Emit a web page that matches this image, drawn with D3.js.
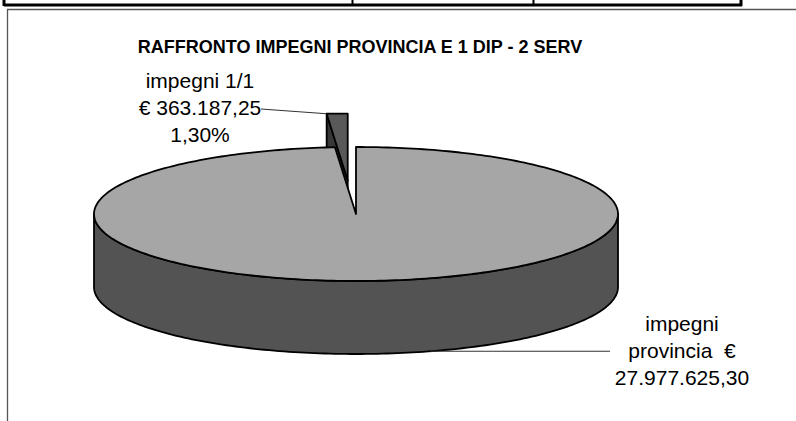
<!DOCTYPE html>
<html>
<head>
<meta charset="utf-8">
<script src="https://cdn.jsdelivr.net/npm/d3@7"></script>
<style>
  body { margin: 0; background: #fff; }
  svg { display: block; font-family: "Liberation Sans", Arial, sans-serif; }
  text { white-space: pre; }
</style>
</head>
<body>
<svg id="chart" width="796" height="421"></svg>
<script>
// data
var categories = ["impegni provincia", "impegni 1/1"];
var values = [27977625.30, 363187.25];
var labelLines = [
    ["impegni", "provincia  \u20ac", "27.977.625,30"],
    ["impegni 1/1", "\u20ac 363.187,25", "1,30%"]
];
var explode = [0, 0.5];
var title = "RAFFRONTO IMPEGNI PROVINCIA E 1 DIP - 2 SERV";

var svg = d3.select("#chart");

// header table remains (top of the page)
var tableCols = [4, 352.5, 533.5, 741];
svg.append("line")
    .attr("x1", 4).attr("x2", 742).attr("y1", 5).attr("y2", 5)
    .attr("stroke", "#000").attr("stroke-width", 3);
tableCols.forEach(function(x, i) {
    svg.append("line")
        .attr("x1", x).attr("x2", x).attr("y1", 0).attr("y2", 6)
        .attr("stroke", "#000").attr("stroke-width", (i == 0 || i == tableCols.length - 1) ? 3 : 2);
});

// chart frame
svg.append("path")
    .attr("d", "M7.5,421 L7.5,9.5 L796,9.5")
    .attr("fill", "none").attr("stroke", "#555").attr("stroke-width", 1.3);

// title
svg.append("text")
    .attr("x", 360).attr("y", 53)
    .attr("text-anchor", "middle")
    .style("font-weight", "bold").style("font-size", "18px")
    .text(title);

// 3d pie geometry
var cx = 356, cy = 214, rx = 262, ry = 67, depth = 73;

var pie = d3.pie().sort(null).startAngle(0).endAngle(2 * Math.PI);
var arcs = pie(values);

function pt(a, off, dz) {
    return [cx + off[0] + rx * Math.sin(a), cy + off[1] - ry * Math.cos(a) + (dz || 0)];
}
function arcPts(a0, a1, off, dz) {
    var n = Math.max(2, Math.ceil(Math.abs(a1 - a0) / 0.02));
    return d3.range(n + 1).map(function(i) { return pt(a0 + (a1 - a0) * i / n, off, dz); });
}
var line = d3.line();

function offsetOf(d, i) {
    var mid = (d.startAngle + d.endAngle) / 2;
    return [explode[i] * rx * Math.sin(mid) - explode[i] * 6, -explode[i] * ry * Math.cos(mid)];
}

var topColor = ["#a6a6a6", "#595959"];
var sideColor = ["#535353", "#383838"];

var g = svg.append("g");

// small (exploded) slice first: it sits behind the big one
var small = arcs[1], so = offsetOf(small, 1);
var apex = [cx + so[0], cy + so[1]];
var pa = pt(small.startAngle, so);
g.append("path")
    .attr("d", line([pa, apex, [apex[0], apex[1] + depth], [pa[0], pa[1] + depth]]) + "Z")
    .attr("fill", sideColor[1]).attr("stroke", "#000").attr("stroke-width", 1.8)
    .attr("stroke-linejoin", "round");
g.append("path")
    .attr("d", line([apex].concat(arcPts(small.startAngle, small.endAngle, so))) + "Z")
    .attr("fill", topColor[1]).attr("stroke", "#000").attr("stroke-width", 1.8)
    .attr("stroke-linejoin", "round");

// big slice: front side then top
var big = arcs[0], bo = offsetOf(big, 0);
var s0 = Math.max(big.startAngle, Math.PI / 2), s1 = Math.min(big.endAngle, 3 * Math.PI / 2);
var sidePts = arcPts(s0, s1, bo).concat(arcPts(s1, s0, bo, depth));
g.append("path")
    .attr("d", line(sidePts) + "Z")
    .attr("fill", sideColor[0]).attr("stroke", "#000").attr("stroke-width", 1.8)
    .attr("stroke-linejoin", "round");
g.append("path")
    .attr("d", line([[cx + bo[0], cy + bo[1]]].concat(arcPts(big.startAngle, big.endAngle, bo))) + "Z")
    .attr("fill", topColor[0]).attr("stroke", "#000").attr("stroke-width", 1.8)
    .attr("stroke-linejoin", "round");

// labels and leader lines
var labelPos = [[682, 331], [200, 88]];
var lineH = 27;
arcs.forEach(function(d, i) {
    var t = svg.append("text")
        .attr("text-anchor", "middle")
        .style("font-size", "21px")
        .attr("fill", "#000");
    labelLines[i].forEach(function(s, k) {
        t.append("tspan")
            .attr("x", labelPos[i][0])
            .attr("y", labelPos[i][1] + k * lineH)
            .text(s);
    });
});

// leader: big slice, from lower front rim to label
var lb = pt(2.853, bo, depth);
svg.append("line")
    .attr("x1", lb[0]).attr("y1", lb[1]).attr("x2", 610).attr("y2", lb[1])
    .attr("stroke", "#333").attr("stroke-width", 1.2);
// leader: small slice, from label to its outer corner
svg.append("line")
    .attr("x1", 261).attr("y1", 109).attr("x2", pa[0]).attr("y2", pa[1])
    .attr("stroke", "#333").attr("stroke-width", 1.2);
</script>
</body>
</html>
